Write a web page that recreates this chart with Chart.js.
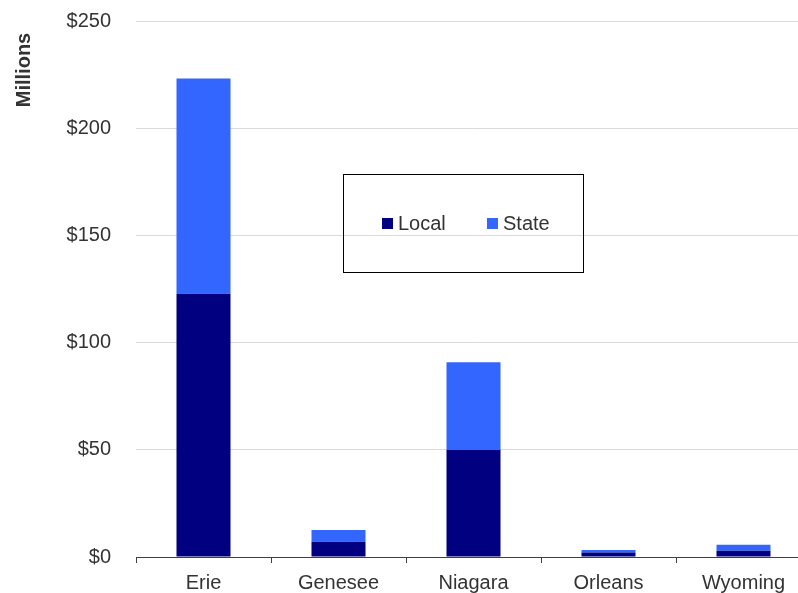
<!DOCTYPE html>
<html>
<head>
<meta charset="utf-8">
<script src="https://cdn.jsdelivr.net/npm/chart.js@4"></script>
<style>
  html, body { margin: 0; padding: 0; background: #fff; overflow: hidden; }
  #wrap { position: relative; width: 811px; height: 593px; }
</style>
</head>
<body>
<div id="wrap"><canvas id="c"></canvas></div>
<script>
const categories = ['Erie', 'Genesee', 'Niagara', 'Orleans', 'Wyoming'];
const localValues = [122.8, 7.1, 50.0, 2.1, 2.9];
const stateValues = [100.4, 5.5, 40.8, 1.2, 2.8];
const seriesNames = ['Local', 'State'];
const yTickValues = [0, 50, 100, 150, 200, 250];
const yAxisTitle = 'Millions';

const FONT = '"Liberation Sans", Arial, sans-serif';
const TEXT = '#333333';

const boxLegend = {
  id: 'boxLegend',
  afterDraw(chart) {
    const ctx = chart.ctx;
    ctx.save();
    ctx.strokeStyle = '#000000';
    ctx.lineWidth = 1;
    ctx.strokeRect(343.5, 174.5, 240, 98);
    ctx.font = '20px ' + FONT;
    ctx.textBaseline = 'middle';
    ctx.textAlign = 'left';
    const xs = [382, 487];
    chart.data.datasets.forEach((ds, i) => {
      ctx.fillStyle = ds.backgroundColor;
      ctx.fillRect(xs[i], 218, 11, 11);
      ctx.fillStyle = TEXT;
      ctx.fillText(ds.label, xs[i] + 16, 224);
    });
    ctx.save();
    ctx.translate(30, 70);
    ctx.rotate(-Math.PI / 2);
    ctx.font = 'bold 20px ' + FONT;
    ctx.textAlign = 'center';
    ctx.textBaseline = 'alphabetic';
    ctx.fillStyle = TEXT;
    ctx.fillText(yAxisTitle, 0, 0);
    ctx.restore();
    ctx.restore();
  }
};

new Chart(document.getElementById('c'), {
  type: 'bar',
  data: {
    labels: categories,
    datasets: [
      { label: seriesNames[0], data: localValues, backgroundColor: '#000080', borderWidth: 0 },
      { label: seriesNames[1], data: stateValues, backgroundColor: '#3366FF', borderWidth: 0 }
    ]
  },
  options: {
    responsive: true,
    maintainAspectRatio: false,
    animation: false,
    devicePixelRatio: 1,
    layout: { padding: { top: 21, right: 0, bottom: 0, left: 0 } },
    datasets: { bar: { barPercentage: 0.4, categoryPercentage: 1.0 } },
    plugins: {
      legend: { display: false },
      tooltip: { enabled: false }
    },
    scales: {
      x: {
        stacked: true,
        offset: true,
        grid: { display: true, drawOnChartArea: false, drawTicks: true, tickLength: 6, color: '#404040', offset: true },
        border: { display: true, color: '#404040', width: 1 },
        ticks: { color: TEXT, font: { family: FONT, size: 20 }, padding: 8, maxRotation: 0 },
        afterFit(scale) { scale.height = 36; }
      },
      y: {
        stacked: true,
        min: 0,
        max: 250,
        afterBuildTicks(scale) { scale.ticks = yTickValues.map(v => ({ value: v })); },
        grid: { color: '#d9d9d9', lineWidth: 1, drawTicks: false },
        border: { display: false },
        ticks: {
          color: TEXT,
          font: { family: FONT, size: 20 },
          padding: 25,
          callback: v => '$' + v
        },
        afterFit(scale) {
          scale.width = 136;
          scale.paddingTop = 0;
          scale.paddingBottom = 0;
        }
      }
    }
  },
  plugins: [boxLegend]
});
</script>
</body>
</html>
